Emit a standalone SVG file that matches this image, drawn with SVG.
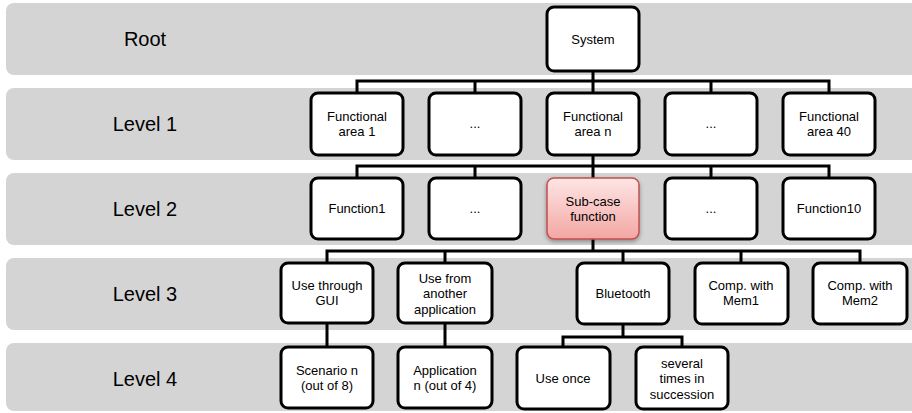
<svg xmlns="http://www.w3.org/2000/svg" width="912" height="413" viewBox="0 0 912 413">
<defs>
<linearGradient id="pink" x1="0" y1="0" x2="0" y2="1">
<stop offset="0" stop-color="#fde6e5"/>
<stop offset="1" stop-color="#f3a6a3"/>
</linearGradient>
<filter id="sh" x="-20%" y="-20%" width="140%" height="150%">
<feDropShadow dx="0" dy="2" stdDeviation="2" flood-color="#000" flood-opacity="0.35"/>
</filter>
</defs>
<style>
.band{fill:#d4d4d4;}
.lvl{font-family:"Liberation Sans",Arial,sans-serif;font-size:20px;fill:#000;text-anchor:middle;}
.box{fill:#fff;stroke:#000;stroke-width:3;}
.hl{fill:url(#pink);stroke:#c0504d;stroke-width:1.5;}
.t{font-family:"Liberation Sans",Arial,sans-serif;font-size:13px;fill:#000;text-anchor:middle;}
.c{fill:none;stroke:#000;stroke-width:3;stroke-linejoin:miter;}
</style>
<g id="bands">
<rect class="band" x="6" y="3" width="920" height="72" rx="8"/>
<rect class="band" x="6" y="88" width="920" height="72" rx="8"/>
<rect class="band" x="6" y="173" width="920" height="72" rx="8"/>
<rect class="band" x="6" y="258" width="920" height="72" rx="8"/>
<rect class="band" x="6" y="343" width="920" height="68" rx="8"/>
<text class="lvl" x="145" y="46">Root</text>
<text class="lvl" x="145" y="131">Level 1</text>
<text class="lvl" x="145" y="216">Level 2</text>
<text class="lvl" x="145" y="301">Level 3</text>
<text class="lvl" x="145" y="386">Level 4</text>
</g>
<g id="connectors">
<path class="c" d="M593 71V81M357 93V81H829V93M475 81V93M711 81V93M593 81V93"/>
<path class="c" d="M593 155V166M357 178V166H829V178M475 166V178M711 166V178M593 166V178"/>
<path class="c" d="M593 239V251M327 263V251H860V263M445 251V263M623 251V263M741 251V263"/>
<path class="c" d="M327 323V347M445 323V347"/>
<path class="c" d="M623 324V337M563 347V337H682V347"/>
</g>
<g id="system"><rect class="box" x="547" y="7" width="92" height="64" rx="7"/><text class="t" x="593" y="44">System</text></g>
<g id="fa1"><rect class="box" x="311" y="93" width="92" height="62" rx="7"/><text class="t" x="357" y="121">Functional</text><text class="t" x="357" y="136">area 1</text></g>
<g id="fa2"><rect class="box" x="429" y="93" width="92" height="62" rx="7"/><text class="t" x="475" y="128">...</text></g>
<g id="fan"><rect class="box" x="547" y="93" width="92" height="62" rx="7"/><text class="t" x="593" y="121">Functional</text><text class="t" x="593" y="136">area n</text></g>
<g id="fa4"><rect class="box" x="665" y="93" width="92" height="62" rx="7"/><text class="t" x="711" y="128">...</text></g>
<g id="fa40"><rect class="box" x="783" y="93" width="92" height="62" rx="7"/><text class="t" x="829" y="121">Functional</text><text class="t" x="829" y="136">area 40</text></g>
<g id="f1"><rect class="box" x="311" y="178" width="92" height="61" rx="7"/><text class="t" x="357" y="213">Function1</text></g>
<g id="f2"><rect class="box" x="429" y="178" width="92" height="61" rx="7"/><text class="t" x="475" y="213">...</text></g>
<g id="subcase"><rect class="hl" x="547" y="178" width="92" height="61" rx="7" filter="url(#sh)"/><text class="t" x="593" y="206">Sub-case</text><text class="t" x="593" y="221">function</text></g>
<g id="f4"><rect class="box" x="665" y="178" width="92" height="61" rx="7"/><text class="t" x="711" y="213">...</text></g>
<g id="f10"><rect class="box" x="783" y="178" width="92" height="61" rx="7"/><text class="t" x="829" y="213">Function10</text></g>
<g id="gui"><rect class="box" x="281" y="263" width="92" height="60" rx="7"/><text class="t" x="327" y="290">Use through</text><text class="t" x="327" y="305">GUI</text></g>
<g id="app"><rect class="box" x="398" y="263" width="94" height="60" rx="7"/><text class="t" x="445" y="283">Use from</text><text class="t" x="445" y="298">another</text><text class="t" x="445" y="314">application</text></g>
<g id="bt"><rect class="box" x="577" y="263" width="92" height="61" rx="7"/><text class="t" x="623" y="298">Bluetooth</text></g>
<g id="mem1"><rect class="box" x="695" y="263" width="93" height="61" rx="7"/><text class="t" x="741" y="290">Comp. with</text><text class="t" x="741" y="305">Mem1</text></g>
<g id="mem2"><rect class="box" x="813" y="263" width="94" height="61" rx="7"/><text class="t" x="860" y="290">Comp. with</text><text class="t" x="860" y="305">Mem2</text></g>
<g id="scen"><rect class="box" x="281" y="347" width="92" height="61" rx="7"/><text class="t" x="327" y="375">Scenario n</text><text class="t" x="327" y="390">(out of 8)</text></g>
<g id="appn"><rect class="box" x="398" y="347" width="94" height="61" rx="7"/><text class="t" x="445" y="375">Application</text><text class="t" x="445" y="390">n (out of 4)</text></g>
<g id="once"><rect class="box" x="517" y="347" width="93" height="62" rx="7"/><text class="t" x="563" y="383">Use once</text></g>
<g id="several"><rect class="box" x="636" y="347" width="92" height="62" rx="7"/><text class="t" x="682" y="368">several</text><text class="t" x="682" y="383">times in</text><text class="t" x="682" y="399">succession</text></g>
</svg>
